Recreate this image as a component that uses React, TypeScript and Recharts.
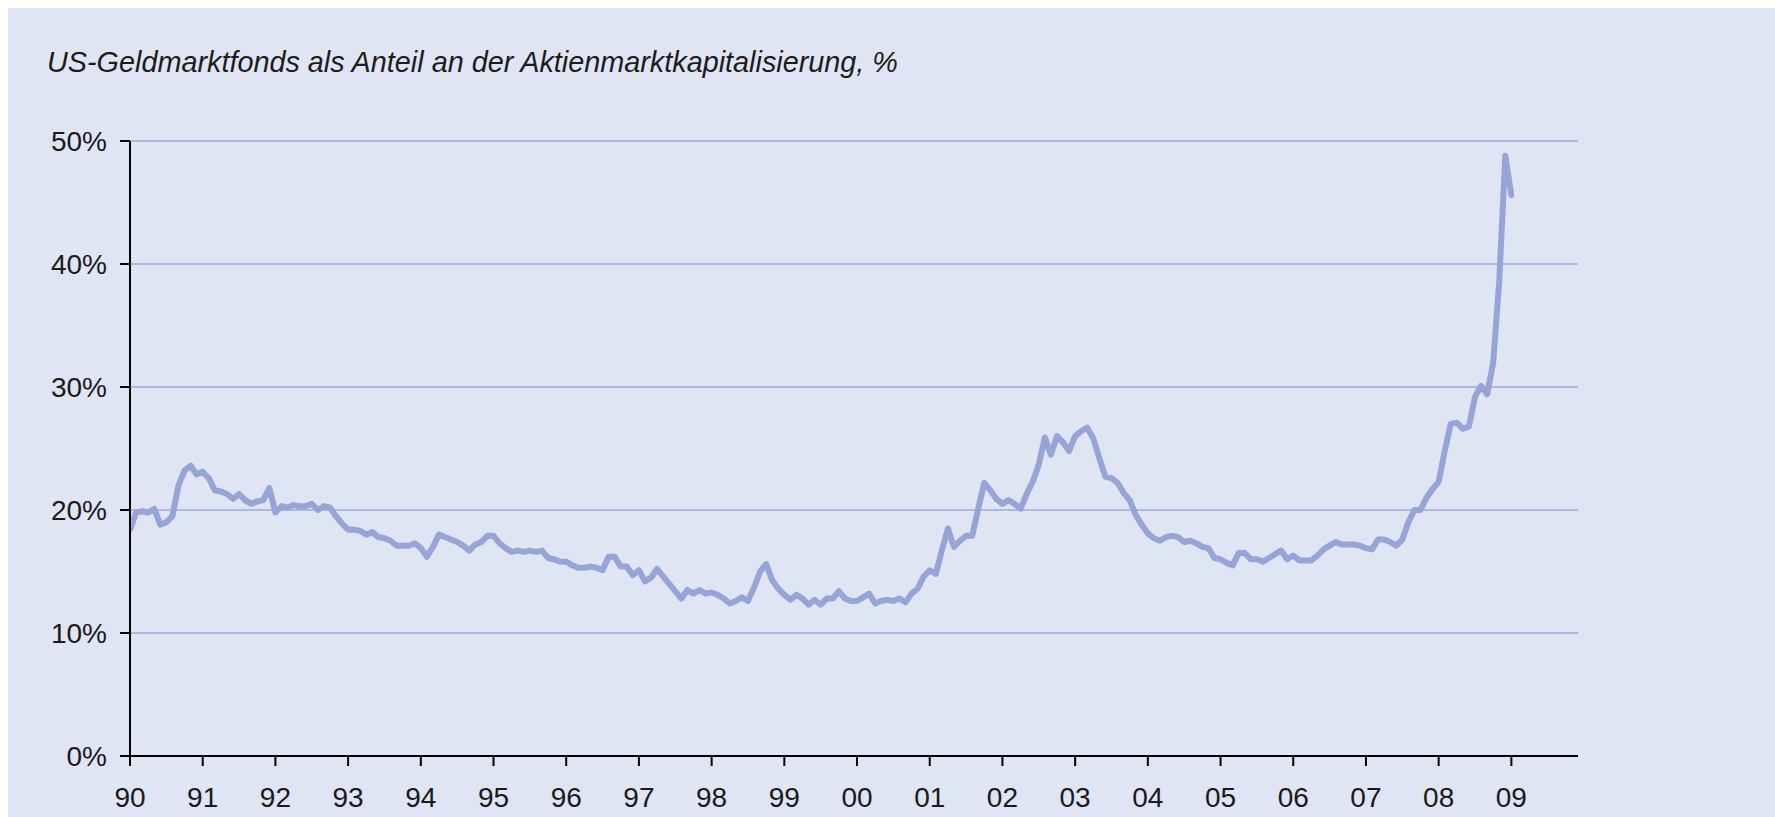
import React from "react";
import { LineChart, Line, XAxis, YAxis, CartesianGrid } from "recharts";

// Monthly values, Jan 1990 .. Jan 2009 (US money market funds as % of stock market cap)
const values1990s: number[] = [
  // 1990
  18.4, 19.8, 19.9, 19.8, 20.1, 18.8, 19.0, 19.5, 22.0, 23.2, 23.6, 22.9,
  // 1991
  23.1, 22.6, 21.6, 21.5, 21.3, 20.9, 21.3, 20.8, 20.5, 20.7, 20.8, 21.8,
  // 1992
  19.8, 20.3, 20.2, 20.4, 20.3, 20.3, 20.5, 20.0, 20.3, 20.2, 19.5, 18.9,
  // 1993
  18.4, 18.4, 18.3, 18.0, 18.2, 17.8, 17.7, 17.5, 17.1, 17.1, 17.1, 17.3,
  // 1994
  16.9, 16.2, 17.0, 18.0, 17.8, 17.6, 17.4, 17.1, 16.7, 17.2, 17.4, 17.9,
  // 1995
  17.9, 17.3, 16.9, 16.6, 16.7, 16.6, 16.7, 16.6, 16.7, 16.1, 16.0, 15.8,
  // 1996
  15.8, 15.5, 15.3, 15.3, 15.4, 15.3, 15.1, 16.2, 16.2, 15.4, 15.4, 14.7,
  // 1997
  15.1, 14.2, 14.5, 15.2, 14.6, 14.0, 13.4, 12.8, 13.5, 13.2, 13.5, 13.2,
  // 1998
  13.3, 13.1, 12.8, 12.4, 12.6, 12.9, 12.6, 13.7, 15.0, 15.6, 14.3, 13.6,
  // 1999
  13.1, 12.7, 13.1, 12.8, 12.3, 12.7, 12.3, 12.8, 12.8, 13.4, 12.8, 12.6,
];

const values2000s: number[] = [
  // 2000
  12.6, 12.9, 13.2, 12.4, 12.6, 12.7, 12.6, 12.8, 12.5, 13.2, 13.6, 14.6,
  // 2001
  15.1, 14.8, 16.7, 18.5, 17.0, 17.5, 17.9, 17.9, 20.1, 22.2, 21.6, 20.9,
  // 2002
  20.5, 20.8, 20.5, 20.1, 21.3, 22.3, 23.7, 25.9, 24.5, 26.0, 25.5, 24.8,
  // 2003
  26.0, 26.4, 26.7, 25.8, 24.2, 22.7, 22.6, 22.2, 21.4, 20.8, 19.6, 18.8,
  // 2004
  18.1, 17.7, 17.5, 17.8, 17.9, 17.8, 17.4, 17.5, 17.3, 17.0, 16.9, 16.1,
  // 2005
  16.0, 15.7, 15.5, 16.5, 16.5, 16.0, 16.0, 15.8, 16.1, 16.4, 16.7, 16.0,
  // 2006
  16.3, 15.9, 15.9, 15.9, 16.3, 16.8, 17.1, 17.4, 17.2, 17.2, 17.2, 17.1,
  // 2007
  16.9, 16.8, 17.6, 17.6, 17.4, 17.1, 17.6, 19.0, 20.0, 20.0, 21.0, 21.7,
  // 2008
  22.3, 24.8, 27.0, 27.1, 26.6, 26.8, 29.2, 30.1, 29.4, 32.0, 38.6, 48.8,
  // 2009
  45.6,
];

const yearLabels: string[] = [
  "90", "91", "92", "93", "94", "95", "96", "97", "98", "99",
  "00", "01", "02", "03", "04", "05", "06", "07", "08", "09",
];

const yTicks: number[] = [0, 10, 20, 30, 40, 50];

const title = "US-Geldmarktfonds als Anteil an der Aktienmarktkapitalisierung, %";

const allValues = [...values1990s, ...values2000s];
const data = allValues.map((v, i) => ({ m: i, v }));
const monthTicks = yearLabels.map((_, i) => i * 12);

const FONT = "'Liberation Sans', Arial, Helvetica, sans-serif";
const BG = "#DFE5F3";
const LINE = "#97A4D7";
const GRID = "#9EA9DB";

export default function App() {
  return (
    <div
      style={{
        position: "fixed",
        left: 8,
        top: 8,
        width: 1767,
        height: 809,
        background: BG,
        overflow: "hidden",
      }}
    >
      <div
        style={{
          position: "absolute",
          left: 39,
          top: 40,
          fontFamily: FONT,
          fontStyle: "italic",
          fontSize: 28.8,
          lineHeight: "28px",
          color: "#1c1c1c",
          whiteSpace: "nowrap",
        }}
      >
        {title}
      </div>
      <LineChart
        width={1767}
        height={809}
        data={data}
        margin={{ top: 133, right: 197, bottom: 6, left: 0 }}
      >
        <CartesianGrid vertical={false} stroke={GRID} strokeWidth={1.5} />
        <XAxis
          type="number"
          dataKey="m"
          domain={[0, 239]}
          ticks={monthTicks}
          interval={0}
          allowDataOverflow
          tickFormatter={(v: number) => yearLabels[Math.round(v / 12)]}
          tickSize={10}
          tickMargin={21}
          height={55}
          axisLine={{ stroke: "#000", strokeWidth: 2 }}
          tickLine={{ stroke: "#000", strokeWidth: 2 }}
          tick={{ fill: "#1a1a1a", fontSize: 28, fontFamily: FONT }}
        />
        <YAxis
          type="number"
          domain={[0, 50]}
          ticks={yTicks}
          interval={0}
          tickFormatter={(v: number) => `${v}%`}
          width={122}
          tickSize={10}
          tickMargin={13}
          axisLine={{ stroke: "#000", strokeWidth: 2 }}
          tickLine={{ stroke: "#000", strokeWidth: 2 }}
          tick={{ fill: "#1a1a1a", fontSize: 28, fontFamily: FONT }}
        />
        <Line
          type="linear"
          dataKey="v"
          stroke={LINE}
          strokeWidth={6}
          dot={false}
          strokeLinejoin="round"
          strokeLinecap="round"
          isAnimationActive={false}
        />
      </LineChart>
    </div>
  );
}
